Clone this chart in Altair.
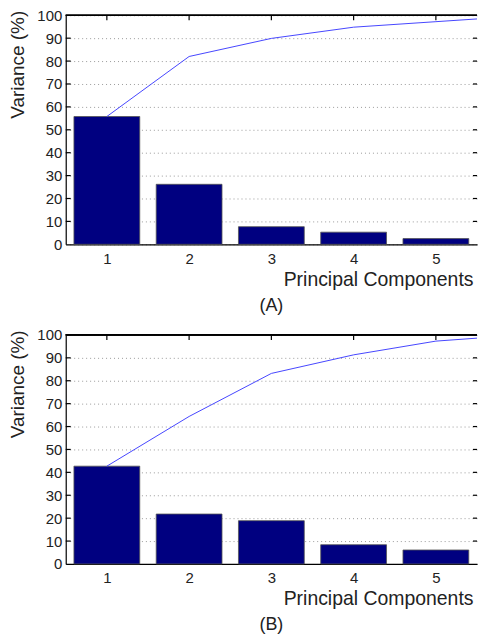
import altair as alt
import pandas as pd

components = [1, 2, 3, 4, 5]
var_a = [55.8, 26.2, 7.7, 5.3, 2.5]
var_b = [42.7, 21.8, 18.9, 8.4, 6.1]
line_pc = [1, 2, 3, 4, 5, 6]
cum_a = [55.8, 82.0, 89.9, 94.8, 97.2, 99.6]
cum_b = [42.7, 64.4, 83.2, 91.3, 97.3, 99.9]
y_ticks = [0, 10, 20, 30, 40, 50, 60, 70, 80, 90, 100]
inner_ticks = [10, 20, 30, 40, 50, 60, 70, 80, 90]
x_title = "Principal Components"
y_title = "Variance (%)"
labels = ["(A)", "(B)"]

W = 413
H = 230
FONT = "Liberation Sans"
BAR = "#000080"
LINE = "#4646ff"

xscale = alt.Scale(domain=[0.5, 5.5], nice=False, zero=False)
yscale = alt.Scale(domain=[0, 100], nice=False)


def panel(values, cum, label):
    bars_df = pd.DataFrame({"pc": components, "var": values})
    line_df = pd.DataFrame({"pc": line_pc, "cum": cum})
    grid_df = pd.DataFrame({"v": inner_ticks})

    bars = alt.Chart(bars_df).transform_calculate(
        x0="datum.pc - 0.4", x1="datum.pc + 0.4"
    ).mark_rect(color=BAR, stroke="#555555", strokeWidth=0.8).encode(
        x=alt.X("x0:Q", scale=xscale, axis=alt.Axis(
            values=components, format="d", title=x_title, grid=False,
            ticks=False, labelPadding=7, titleAnchor="end", titlePadding=4,
            titleX=W - 4, titleFontSize=19.5,
            domainColor="black", domainWidth=1.2)),
        x2="x1:Q",
        y=alt.Y("var:Q", scale=yscale, axis=alt.Axis(
            values=y_ticks, title=y_title, grid=True, ticks=False,
            labelOverlap=False,
            gridDash=[1, 3], gridColor="#9a9a9a", gridWidth=1,
            labelPadding=4, titleAnchor="end", titlePadding=9, titleY=-5,
            domainColor="black", domainWidth=1.2)),
        y2=alt.datum(0),
    )

    line = alt.Chart(line_df).mark_line(color=LINE, strokeWidth=1, clip=True).encode(
        x=alt.X("pc:Q", scale=xscale, axis=None),
        y=alt.Y("cum:Q", scale=yscale, axis=None),
    )

    top_border = alt.Chart(bars_df).mark_rule(color="black", strokeWidth=1.2).encode(
        x=alt.value(0), x2=alt.value(W), y=alt.value(0)
    )
    top_ticks = alt.Chart(bars_df).mark_rule(color="black", strokeWidth=1.2).encode(
        x=alt.X("pc:Q", scale=xscale, axis=None), y=alt.value(0), y2=alt.value(5)
    )
    left_ticks = alt.Chart(grid_df).mark_rule(color="black", strokeWidth=1.2).encode(
        y=alt.Y("v:Q", scale=yscale, axis=None), x=alt.value(0), x2=alt.value(5)
    )
    right_ticks = alt.Chart(grid_df).mark_rule(color="black", strokeWidth=1.2).encode(
        y=alt.Y("v:Q", scale=yscale, axis=None), x=alt.value(W - 4), x2=alt.value(W)
    )

    return alt.layer(bars, line, top_border, top_ticks, left_ticks, right_ticks).resolve_axis(
        x="independent", y="independent"
    ).properties(
        width=W, height=H,
        title=alt.TitleParams(label, orient="bottom", anchor="middle",
                              fontSize=18, font=FONT, fontWeight="normal",
                              color="#222222", offset=8),
    )


chart = alt.vconcat(
    panel(var_a, cum_a, labels[0]),
    panel(var_b, cum_b, labels[1]),
    spacing=13,
).properties(
    padding={"left": 8, "right": 0, "top": 7, "bottom": 0},
    background="white",
).configure_view(stroke=None).configure_axis(
    labelFont=FONT, titleFont=FONT, labelFontSize=15, titleFontSize=19,
    labelColor="#222222", titleColor="#222222", titleFontWeight="normal",
)

chart.save("out.html", embed_options={"renderer": "svg", "actions": False})
